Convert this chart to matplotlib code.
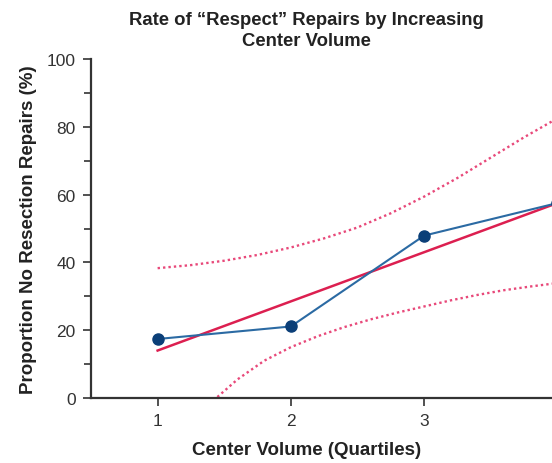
import matplotlib

matplotlib.use("Agg")
import matplotlib.pyplot as plt
from matplotlib.ticker import MultipleLocator

plt.rcParams["font.family"] = ["Liberation Sans", "DejaVu Sans"]

# observed rate per quartile
quartiles = [1, 2, 3, 4]
rate_pct = [17.4, 21.1, 47.9, 57.5]

# fitted trend line
fit_x = [1, 4]
fit_y = [14.0, 57.5]

# confidence band
upper_x = [1.0, 1.25, 1.5, 1.75, 2.0, 2.25, 2.5, 2.75, 3.0, 3.25, 3.5, 3.75, 4.0]
upper_y = [38.3, 39.2, 40.5, 42.2, 44.4, 47.1, 50.3, 54.5, 59.4, 64.9, 70.9, 76.9, 82.5]
lower_x = [1.3, 1.44, 1.6, 1.8, 2.0, 2.2, 2.4, 2.6, 2.8, 3.0, 3.2, 3.4, 3.6, 3.8, 4.0]
lower_y = [-5.2, 0.0, 5.5, 11.0, 15.0, 18.2, 20.9, 23.2, 25.2, 27.0, 28.8, 30.4, 31.8, 32.9, 33.9]

RED = "#dc1f50"
BLUE = "#2b6aa3"
NAVY = "#0b3f78"
DARK = "#333333"

fig = plt.figure(figsize=(5.52, 4.64), dpi=100)
ax = fig.add_axes([91 / 552, 65 / 464, 1 - 91 / 552, 339 / 464])

for cx, cy in ((upper_x, upper_y), (lower_x, lower_y)):
    ax.plot(cx, cy, color="#e8497a", linewidth=1.7, linestyle=(0, (1, 1.3)))
ax.plot(fit_x, fit_y, color=RED, linewidth=1.8)
ax.plot(quartiles, rate_pct, color=BLUE, linewidth=1.5, marker="o",
        markersize=8, markerfacecolor=NAVY, markeredgecolor=NAVY)

ax.set_xlim(0.5, 3.96)
ax.set_ylim(0, 100)
ax.set_xticks([1, 2, 3])
ax.yaxis.set_major_locator(MultipleLocator(20))
ax.yaxis.set_minor_locator(MultipleLocator(10))

for side in ("top", "right"):
    ax.spines[side].set_visible(False)
for side in ("left", "bottom"):
    ax.spines[side].set_linewidth(1.6)
    ax.spines[side].set_color(DARK)

ax.tick_params(axis="both", which="major", length=6, width=1.2, color=DARK,
               labelsize=12.5, labelcolor=DARK, pad=5)
ax.tick_params(axis="y", which="minor", length=5, width=1.2, color=DARK)

ax.set_ylabel("Proportion No Resection Repairs (%)", fontsize=13.5,
              fontweight="bold", color="#222222")
ax.yaxis.set_label_coords(-0.117, 0.5)
ax.set_xlabel("Center Volume (Quartiles)", fontsize=13.5, fontweight="bold",
              color="#222222")
ax.xaxis.set_label_coords((307 - 91) / (552 - 91), -0.128)

fig.text(306 / 552, 1 - 31 / 464,
         "Rate of \u201cRespect\u201d Repairs by Increasing\nCenter Volume",
         ha="center", va="center", fontsize=13.3, fontweight="bold",
         color="#222222", linespacing=1.3)

fig.savefig("out.png", dpi=100)
